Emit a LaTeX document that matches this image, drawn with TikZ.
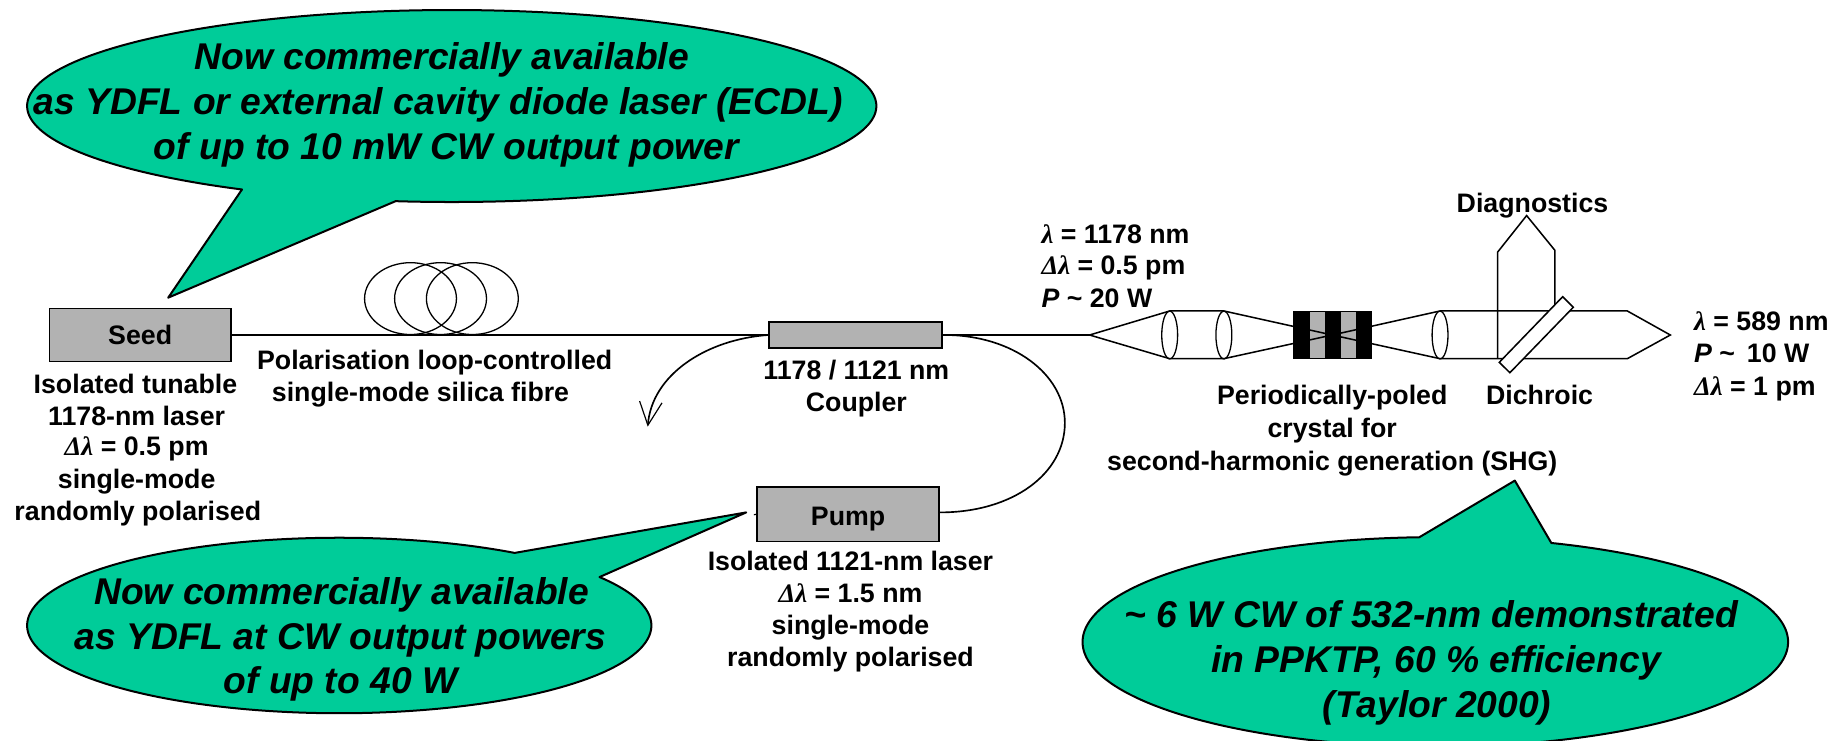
\documentclass[tikz,border=0pt]{standalone}
\usepackage{fontspec}
\usetikzlibrary{shapes.geometric}
\setmainfont{Liberation Sans}
\newfontfamily\symf{Liberation Serif}[BoldFont={Liberation Serif Bold},BoldItalicFont={Liberation Serif Bold Italic}]
\definecolor{callgreen}{HTML}{00CC99}
\definecolor{boxgray}{HTML}{B2B2B2}
\newcommand{\La}{{\symf\bfseries\itshape λ}}
\newcommand{\Dl}{{\symf\bfseries\itshape Δλ}}
\tikzset{
  lab/.style={font=\fontsize{22.7}{25}\selectfont\bfseries,inner sep=0pt,anchor=base},
  labl/.style={lab,anchor=base west},
  call/.style={font=\fontsize{31.6}{36}\selectfont\bfseries\itshape,inner sep=0pt,anchor=base},
  ballo/.style={fill=callgreen,draw=black,line width=1.7pt,line join=round},
  devbox/.style={draw=black,fill=boxgray,line width=1.5pt,inner sep=0pt},
  fibre/.style={draw=black,line width=1.4pt},
  optic/.style={draw=black,line width=1.3pt},
}
\begin{document}
\begin{tikzpicture}[x=1pt,y=-1pt]
\useasboundingbox (0,0) rectangle (1568,629);
% callouts
\draw[ballo] plot[domain=119.6:457.6,samples=220,smooth] ({383.5+360.5*cos(\x)},{90+81.5*sin(\x)}) -- (142.8,252.7) -- cycle;
\draw[ballo] plot[domain=-33.5:304.2,samples=220,smooth] ({288+265*cos(\x)},{531+74.5*sin(\x)}) -- (633.5,435) -- cycle;
\begin{scope}
\clip (0,0) rectangle (1568,629);
\draw[ballo] plot[domain=-70.8:267.4,samples=220,smooth] ({1218.5+299.5*cos(\x)},{545+89*sin(\x)}) -- (1286,408) -- cycle;
\end{scope}
\node[call] (c1a) at (375,59.4) {Now commercially available};
\node[call] (c1b) at (372,97.6) {as YDFL or external cavity diode laser (ECDL)};
\node[call] (c1c) at (379,135.8) {of up to 10 mW CW output power};
\node[call] (c2a) at (290,513) {Now commercially available};
\node[call] (c2b) at (289,551) {as YDFL at CW output powers};
\node[call] (c2c) at (289,589) {of up to 40 W};
\node[call] (c3a) at (1215,533) {\textasciitilde{} 6 W CW of 532-nm demonstrated};
\node[call] (c3b) at (1219,571) {in PPKTP, 60 \% efficiency};
\node[call] (c3c) at (1220,609) {(Taylor 2000)};
% devices
\node[devbox,minimum width=154pt,minimum height=45pt] (seed) at (119,284.4) {};
\node[devbox,minimum width=147pt,minimum height=21.5pt] (coupler) at (726.5,284.4) {};
\node[devbox,minimum width=154.5pt,minimum height=46pt] (pump) at (720,436.6) {};
\node[lab] (seedt) at (119,292.3) {Seed};
\node[lab] (pumpt) at (720,445.7) {Pump};
\coordinate (apexL) at (925,284.4);
\coordinate (arrowend) at (550,361);
\coordinate (tick) at (640,437);
\draw[fibre] (seed.east) -- (coupler.west);
\draw[fibre] (coupler.east) -- (apexL);
\draw[fibre] (coupler.east) .. controls (860,284) and (904,318) .. (904,359) .. controls (904,402) and (860,435) .. (pump.east |- 0,435);
\draw[fibre] (coupler.west) .. controls (600,288) and (553,318) .. (arrowend);
\draw[line width=1pt] (543,340.5) -- (arrowend) -- (562,342);
\draw[line width=1pt] (tick) -- (pump.west);
% loops
\foreach \n/\cx in {a/348.5,b/374,c/401}
  \node[draw=black,line width=1.1pt,ellipse,minimum width=78pt,minimum height=61pt,inner sep=0pt] (loop\n) at (\cx,253.5) {};
% optics
\coordinate (l1t) at (993,264); \coordinate (l1b) at (993,304.5);
\coordinate (l2t) at (1039,264); \coordinate (l2b) at (1039,304.5);
\coordinate (l3t) at (1222.5,264); \coordinate (l3b) at (1222.5,304.5);
\coordinate (focus) at (1131,284.4);
\coordinate (endt) at (1381.5,264); \coordinate (endb) at (1381.5,304.5);
\coordinate (apexR) at (1418,284.4);
% crystal
\fill[black] (1098,264) rectangle (1164.5,304.5);
\fill[boxgray] (1112,264.8) rectangle (1124.6,303.7);
\fill[boxgray] (1138.6,264.8) rectangle (1151,303.7);
\draw[optic] (l2t) -- (focus) -- (l3b);
\draw[optic] (l2b) -- (focus) -- (l3t);
\draw[optic] (apexL) -- (l1t) -- (l2t);
\draw[optic] (apexL) -- (l1b) -- (l2b);
\draw[optic] (l3t) -- (endt) -- (apexR) -- (endb) -- (l3b);
\foreach \n/\cx in {a/993,b/1039,c/1222.5}
  \node[draw=black,line width=1.1pt,ellipse,minimum width=13.5pt,minimum height=40.5pt,inner sep=0pt] (lens\n) at (\cx,284.4) {};
% diagnostics path
\coordinate (dbot) at (1271.4,304.5);
\coordinate (dtop) at (1296,183);
\draw[optic] (dbot) -- (1271.4,214) -- (dtop) -- (1320,212.5) -- (1320,259);
\draw[line width=1.3pt,draw=black,fill=white] (1326.6,251.9) -- (1335.6,260.9) -- (1281.8,316.4) -- (1272.8,307.6) -- cycle;
% labels
\node[lab] (t1) at (115,334) {Isolated tunable};
\node[lab] (t2) at (116,361) {1178-nm laser};
\node[lab] (t3) at (116,387) {\Dl{} = 0.5 pm};
\node[lab] (t4) at (116,415) {single-mode};
\node[lab] (t5) at (117,442) {randomly polarised};
\node[lab] (t6) at (369,313.5) {Polarisation loop-controlled};
\node[lab] (t7) at (357,341) {single-mode silica fibre};
\node[lab] (t8) at (727,322) {1178 / 1121 nm};
\node[lab] (t9) at (727,349.5) {Coupler};
\node[lab] (t10) at (722,484.5) {Isolated 1121-nm laser};
\node[lab] (t11) at (722,511.5) {\Dl{} = 1.5 nm};
\node[lab] (t12) at (722,538.5) {single-mode};
\node[lab] (t13) at (722,566) {randomly polarised};
\node[labl] (t14) at (884,206.6) {\La{} = 1178 nm};
\node[labl] (t15) at (884,233.4) {\Dl{} = 0.5 pm};
\node[labl] (t16) at (884,261) {\textit{P} \textasciitilde{} 20 W};
\node[lab] (t17) at (1301,180) {Diagnostics};
\node[lab] (t18) at (1131,343.5) {Periodically-poled};
\node[lab] (t19) at (1131,371) {crystal for};
\node[lab] (t20) at (1131,399.5) {second-harmonic generation (SHG)};
\node[lab] (t21) at (1307,343.5) {Dichroic};
\node[labl] (t22) at (1438,280.5) {\La{} = 589 nm};
\node[labl] (t23) at (1438,308) {\textit{P} \textasciitilde{}\ \,10 W};
\node[labl] (t24) at (1438,335.5) {\Dl{} = 1 pm};
\end{tikzpicture}
\end{document}
